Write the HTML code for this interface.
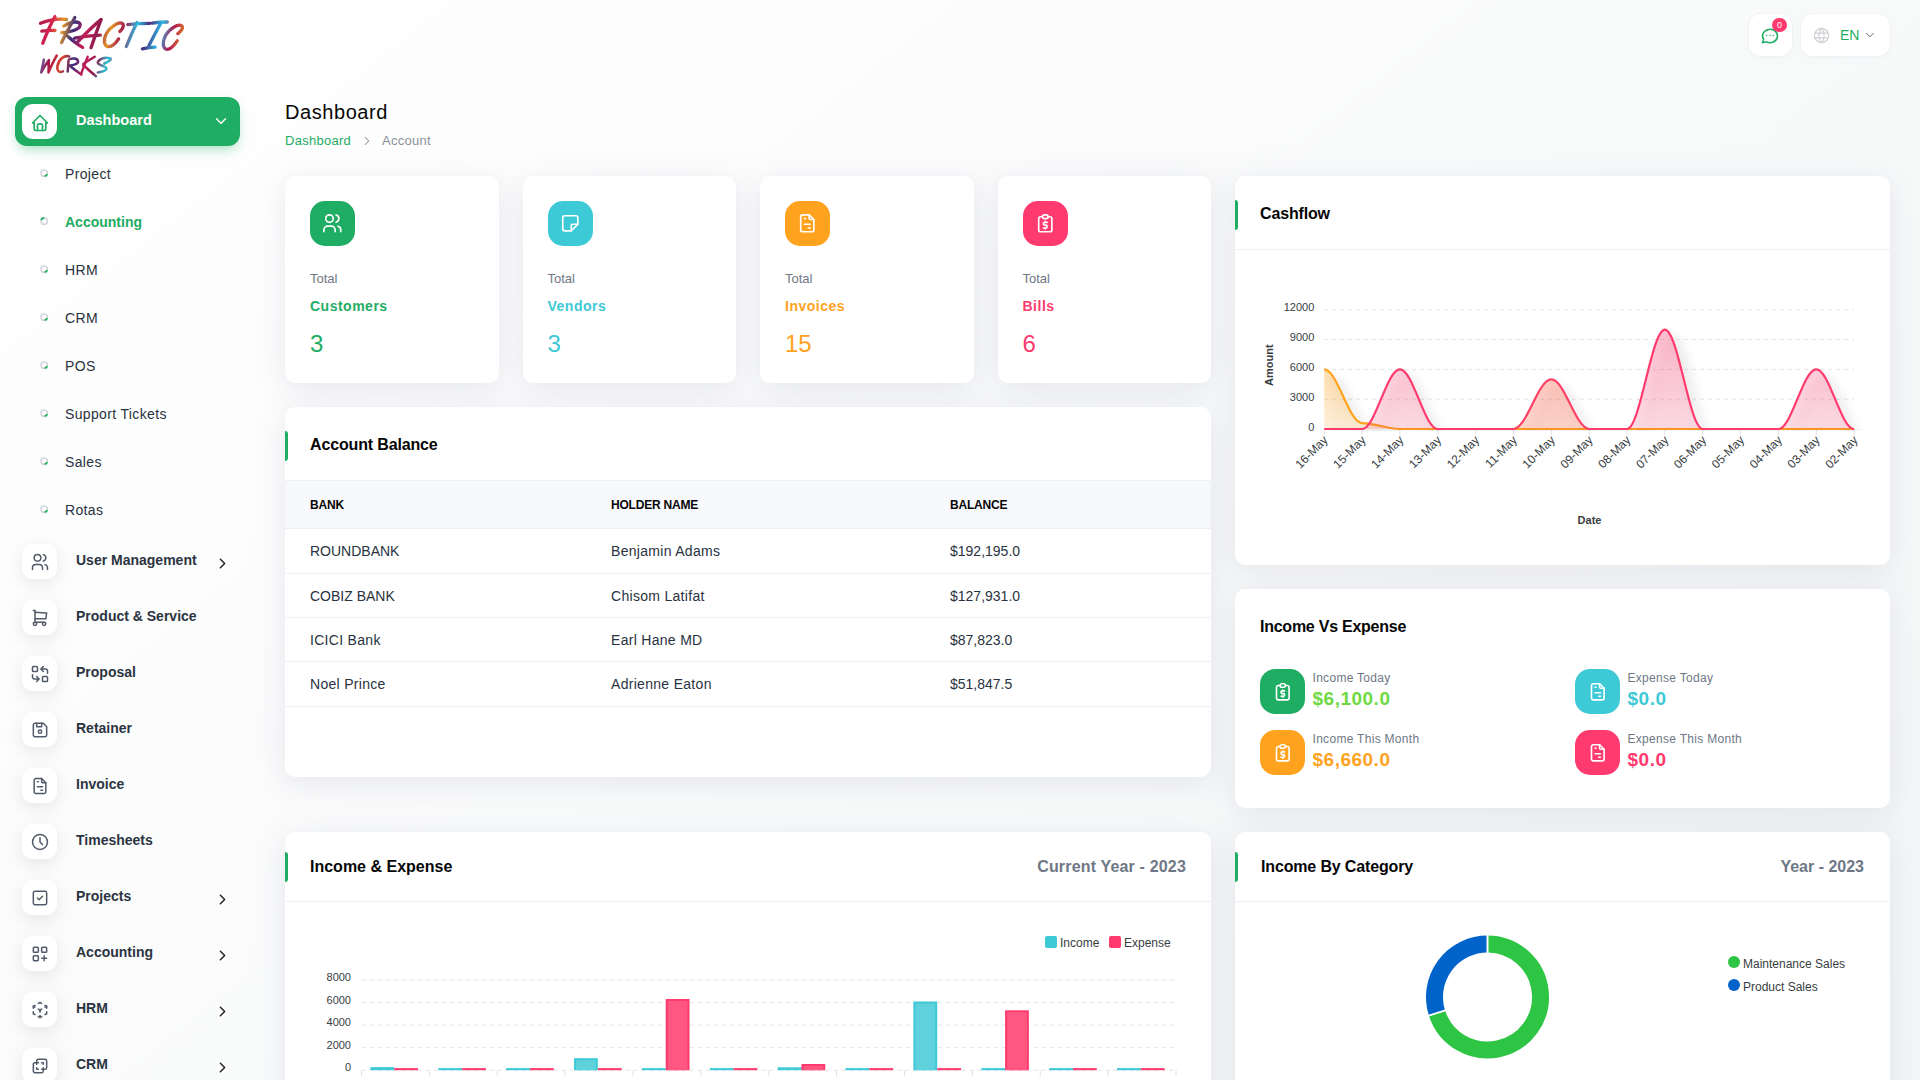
<!DOCTYPE html>
<html><head><meta charset="utf-8">
<style>
*{box-sizing:border-box;margin:0;padding:0}
html,body{width:1920px;height:1080px;overflow:hidden}
body{font-family:"Liberation Sans",sans-serif;color:#293240;background:linear-gradient(141.55deg,rgba(244,246,247,0) 3.46%,#f3f5f6 99.86%),#fff;position:relative}
.a{position:absolute;white-space:nowrap}
.t{position:absolute;white-space:nowrap}
.card{position:absolute;background:#fff;border-radius:10px;box-shadow:0 6px 30px rgba(182,186,203,0.3)}
svg.ti{position:absolute;fill:none;stroke-linecap:round;stroke-linejoin:round}
.mi{position:absolute;left:22px;width:35px;height:35px;border-radius:10px;background:#fff;box-shadow:0 5px 16px rgba(160,165,170,0.22)}
</style></head><body>
<svg class="a" style="left:0;top:0" width="200" height="90" viewBox="0 0 200 90">
<defs><linearGradient id="lg" gradientUnits="userSpaceOnUse" x1="38" y1="15" x2="190" y2="55">
<stop offset="0" stop-color="#a3154c"/><stop offset="0.1" stop-color="#d4244f"/><stop offset="0.17" stop-color="#e89a2a"/><stop offset="0.24" stop-color="#3a2b78"/><stop offset="0.32" stop-color="#c41d55"/>
<stop offset="0.4" stop-color="#8e1a4f"/><stop offset="0.47" stop-color="#e3962c"/><stop offset="0.55" stop-color="#a0174d"/><stop offset="0.63" stop-color="#2dbfe2"/><stop offset="0.7" stop-color="#4a2a80"/>
<stop offset="0.78" stop-color="#2ab8e6"/><stop offset="0.86" stop-color="#b3174f"/><stop offset="0.93" stop-color="#e0852a"/><stop offset="1" stop-color="#8c1a4a"/></linearGradient>
<linearGradient id="lg2" gradientUnits="userSpaceOnUse" x1="38" y1="55" x2="115" y2="78">
<stop offset="0" stop-color="#3a8fd0"/><stop offset="0.15" stop-color="#a3154c"/><stop offset="0.3" stop-color="#d9432f"/><stop offset="0.45" stop-color="#3d2d7e"/><stop offset="0.6" stop-color="#c41d55"/><stop offset="0.72" stop-color="#8e1a4f"/><stop offset="0.85" stop-color="#2dc3d6"/><stop offset="1" stop-color="#b3174f"/></linearGradient></defs>
<g fill="none" stroke="url(#lg)" stroke-width="3.3" stroke-linecap="round" stroke-linejoin="round">
<path d="M40.5 23.3 C48 20.5 58 18.5 66.5 19.5"/>
<path d="M55 16.6 C50 25 46 35 42.8 43.2"/>
<path d="M41.8 31.2 C46 30.6 51 30.2 55 30.5"/>
<path d="M74.8 17.5 C70 26 65 35 61.5 42.6"/>
<path d="M63.8 26 C70 21.5 79 20.5 80.2 24.5 C81 29 70 32.5 61.8 32.6"/>
<path d="M65.2 34.2 C71 39 76 44 82.6 47.4"/>
<path d="M77.5 42.2 C85 34 93 26 101 19.6"/>
<path d="M101 19.6 C97.5 29 94 39 91 47.8"/>
<path d="M74.6 38.2 C83 36.5 92 35.4 100.5 35.1"/>
<path d="M119.7 31.5 C122 29.5 124.5 26 122.5 23.6 C119 21 110 27 106.5 33.5 C103 40 104 46.5 108.6 46.6 C112.5 46.7 116.5 42 118.6 38.8"/>
<path d="M127.8 24.6 C135 23.8 142.5 23.3 149.6 23.3"/>
<path d="M137 22.4 C133 30.5 129.5 38.5 126.4 46.5"/>
<path d="M152.2 23.2 C157 22.5 162.5 22 167.3 22"/>
<path d="M160.5 23.7 C156.5 31 152.5 38.5 149 45.6"/>
<path d="M142.4 48.8 C146.5 48 151 47.4 155.2 47.2"/>
<path d="M177.8 33.8 C180.5 31.5 184 28 181.8 25.8 C178 23.5 169 29 165.5 35.6 C162 42.5 162.8 49 166.8 49.3 C170.5 49.5 175 44.2 177.3 40.8"/>
</g>
<g fill="none" stroke="url(#lg2)" stroke-width="2.5" stroke-linecap="round" stroke-linejoin="round">
<path d="M43.9 59.6 C43 64 42 68.5 41.2 72.4 C43.5 68 46 64 48.9 60 C48.8 64 48.6 68.5 48.5 72.4 C51 66.5 53.8 60.5 56.8 55.5"/>
<path d="M69.2 56.4 C64 55 58.5 59.5 57.4 66.5 C56.8 71.5 60 73 63 71.2"/>
<path d="M68.5 60.4 C68.3 64 68 68 67.7 71.6"/>
<path d="M69.3 59.2 C73 57.8 77.5 58 78.1 61.5 C78.3 64 73 65.3 69 65.4"/>
<path d="M69.8 65.8 C73.5 69 77.5 72 81.4 74.5"/>
<path d="M87.7 56.8 C85.5 62.5 83 68.5 81 74.2"/>
<path d="M94.7 56.8 C91 59 87 61.5 83.5 63.8"/>
<path d="M83.2 65 C87.5 69 91.5 72.5 96 76.2"/>
<path d="M110.6 58.4 C107 57.5 102 57.5 98.5 61 C95.5 64.5 103 65.5 106 67.5 C107.5 69.5 104.5 71.8 97.8 72.4"/>
<path d="M104.3 63.7 C106.5 62.5 109 61 110.6 59.7"/>
</g></svg>

<div class="a" style="left:15px;top:97px;width:225px;height:49px;border-radius:12px;background:#1fac63;box-shadow:0 6px 12px -2px rgba(31,172,99,0.35)"></div>
<div class="a" style="left:22px;top:104px;width:35px;height:35px;border-radius:11px;background:#fff"></div>
<svg class="ti" style="left:29.60px;top:112.50px" width="20" height="20" viewBox="0 0 24 24" stroke="#1fac63" stroke-width="2"><path d="M5 12l-2 0l9 -9l9 9l-2 0"/><path d="M5 12v7a2 2 0 0 0 2 2h10a2 2 0 0 0 2 -2v-7"/><path d="M9 21v-6a2 2 0 0 1 2 -2h2a2 2 0 0 1 2 2v6"/></svg>
<div class="t" style="left:76px;top:112.73px;font-size:14.5px;line-height:14.5px;font-weight:700;color:#fff;">Dashboard</div>
<svg class="ti" style="left:211.50px;top:111.90px" width="18" height="18" viewBox="0 0 24 24" stroke="#fff" stroke-width="1.9"><path d="M6 9l6 6l6 -6"/></svg>
<svg class="a" style="left:40px;top:169px" width="8.5" height="8.5" viewBox="0 0 8.5 8.5"><circle cx="4.2" cy="4.2" r="3.2" stroke="#d2d7de" stroke-width="1.6" fill="none"/><path d="M7.2 5.2 A3.2 3.2 0 0 1 4.6 7.2" stroke="#1fac63" stroke-width="1.8" fill="none"/></svg>
<div class="t" style="left:65px;top:166.90px;font-size:14px;line-height:14px;font-weight:400;color:#293240;letter-spacing:0.35px">Project</div>
<svg class="a" style="left:40px;top:217px" width="8.5" height="8.5" viewBox="0 0 8.5 8.5"><circle cx="4.2" cy="4.2" r="3.2" stroke="#d2d7de" stroke-width="1.6" fill="none"/><path d="M1.2 3.2 A3.2 3.2 0 0 1 4.3 0.9" stroke="#1fac63" stroke-width="1.8" fill="none"/></svg>
<div class="t" style="left:65px;top:214.90px;font-size:14px;line-height:14px;font-weight:700;color:#1fac63;">Accounting</div>
<svg class="a" style="left:40px;top:265px" width="8.5" height="8.5" viewBox="0 0 8.5 8.5"><circle cx="4.2" cy="4.2" r="3.2" stroke="#d2d7de" stroke-width="1.6" fill="none"/><path d="M7.2 5.2 A3.2 3.2 0 0 1 4.6 7.2" stroke="#1fac63" stroke-width="1.8" fill="none"/></svg>
<div class="t" style="left:65px;top:262.90px;font-size:14px;line-height:14px;font-weight:400;color:#293240;letter-spacing:0.35px">HRM</div>
<svg class="a" style="left:40px;top:313px" width="8.5" height="8.5" viewBox="0 0 8.5 8.5"><circle cx="4.2" cy="4.2" r="3.2" stroke="#d2d7de" stroke-width="1.6" fill="none"/><path d="M7.2 5.2 A3.2 3.2 0 0 1 4.6 7.2" stroke="#1fac63" stroke-width="1.8" fill="none"/></svg>
<div class="t" style="left:65px;top:310.90px;font-size:14px;line-height:14px;font-weight:400;color:#293240;letter-spacing:0.35px">CRM</div>
<svg class="a" style="left:40px;top:361px" width="8.5" height="8.5" viewBox="0 0 8.5 8.5"><circle cx="4.2" cy="4.2" r="3.2" stroke="#d2d7de" stroke-width="1.6" fill="none"/><path d="M7.2 5.2 A3.2 3.2 0 0 1 4.6 7.2" stroke="#1fac63" stroke-width="1.8" fill="none"/></svg>
<div class="t" style="left:65px;top:358.90px;font-size:14px;line-height:14px;font-weight:400;color:#293240;letter-spacing:0.35px">POS</div>
<svg class="a" style="left:40px;top:409px" width="8.5" height="8.5" viewBox="0 0 8.5 8.5"><circle cx="4.2" cy="4.2" r="3.2" stroke="#d2d7de" stroke-width="1.6" fill="none"/><path d="M7.2 5.2 A3.2 3.2 0 0 1 4.6 7.2" stroke="#1fac63" stroke-width="1.8" fill="none"/></svg>
<div class="t" style="left:65px;top:406.90px;font-size:14px;line-height:14px;font-weight:400;color:#293240;letter-spacing:0.35px">Support Tickets</div>
<svg class="a" style="left:40px;top:457px" width="8.5" height="8.5" viewBox="0 0 8.5 8.5"><circle cx="4.2" cy="4.2" r="3.2" stroke="#d2d7de" stroke-width="1.6" fill="none"/><path d="M7.2 5.2 A3.2 3.2 0 0 1 4.6 7.2" stroke="#1fac63" stroke-width="1.8" fill="none"/></svg>
<div class="t" style="left:65px;top:454.90px;font-size:14px;line-height:14px;font-weight:400;color:#293240;letter-spacing:0.35px">Sales</div>
<svg class="a" style="left:40px;top:505px" width="8.5" height="8.5" viewBox="0 0 8.5 8.5"><circle cx="4.2" cy="4.2" r="3.2" stroke="#d2d7de" stroke-width="1.6" fill="none"/><path d="M7.2 5.2 A3.2 3.2 0 0 1 4.6 7.2" stroke="#1fac63" stroke-width="1.8" fill="none"/></svg>
<div class="t" style="left:65px;top:502.90px;font-size:14px;line-height:14px;font-weight:400;color:#293240;letter-spacing:0.35px">Rotas</div>
<div class="mi" style="top:544px"></div>
<svg class="ti" style="left:29.50px;top:551.50px" width="20" height="20" viewBox="0 0 24 24" stroke="#525b69" stroke-width="1.8"><path d="M9 7m-4 0a4 4 0 1 0 8 0a4 4 0 1 0 -8 0"/><path d="M3 21v-2a4 4 0 0 1 4 -4h4a4 4 0 0 1 4 4v2"/><path d="M16 3.13a4 4 0 0 1 0 7.75"/><path d="M21 21v-2a4 4 0 0 0 -3 -3.85"/></svg>
<div class="t" style="left:76px;top:553.15px;font-size:14px;line-height:14px;font-weight:700;color:#2c3441;">User Management</div>
<svg class="ti" style="left:213.70px;top:554.80px" width="17" height="17" viewBox="0 0 24 24" stroke="#222" stroke-width="2.1"><path d="M9 6l6 6l-6 6"/></svg>
<div class="mi" style="top:600px"></div>
<svg class="ti" style="left:29.50px;top:607.50px" width="20" height="20" viewBox="0 0 24 24" stroke="#525b69" stroke-width="1.8"><path d="M6 19m-2 0a2 2 0 1 0 4 0a2 2 0 1 0 -4 0"/><path d="M17 19m-2 0a2 2 0 1 0 4 0a2 2 0 1 0 -4 0"/><path d="M17 17h-11v-14h-2"/><path d="M6 5l14 1l-1 7h-13"/></svg>
<div class="t" style="left:76px;top:609.15px;font-size:14px;line-height:14px;font-weight:700;color:#2c3441;">Product &amp; Service</div>
<div class="mi" style="top:656px"></div>
<svg class="ti" style="left:29.50px;top:663.50px" width="20" height="20" viewBox="0 0 24 24" stroke="#525b69" stroke-width="1.8"><path d="M3 3m0 1a1 1 0 0 1 1 -1h4a1 1 0 0 1 1 1v4a1 1 0 0 1 -1 1h-4a1 1 0 0 1 -1 -1z"/><path d="M15 15m0 1a1 1 0 0 1 1 -1h4a1 1 0 0 1 1 1v4a1 1 0 0 1 -1 1h-4a1 1 0 0 1 -1 -1z"/><path d="M21 11v-3a2 2 0 0 0 -2 -2h-6l3 3m0 -6l-3 3"/><path d="M3 13v3a2 2 0 0 0 2 2h6l-3 -3m0 6l3 -3"/></svg>
<div class="t" style="left:76px;top:665.15px;font-size:14px;line-height:14px;font-weight:700;color:#2c3441;">Proposal</div>
<div class="mi" style="top:712px"></div>
<svg class="ti" style="left:29.50px;top:719.50px" width="20" height="20" viewBox="0 0 24 24" stroke="#525b69" stroke-width="1.8"><path d="M6 4h10l4 4v10a2 2 0 0 1 -2 2h-12a2 2 0 0 1 -2 -2v-12a2 2 0 0 1 2 -2"/><path d="M12 14m-2 0a2 2 0 1 0 4 0a2 2 0 1 0 -4 0"/><path d="M14 4l0 4l-6 0l0 -4"/></svg>
<div class="t" style="left:76px;top:721.15px;font-size:14px;line-height:14px;font-weight:700;color:#2c3441;">Retainer</div>
<div class="mi" style="top:768px"></div>
<svg class="ti" style="left:29.50px;top:775.50px" width="20" height="20" viewBox="0 0 24 24" stroke="#525b69" stroke-width="1.8"><path d="M14 3v4a1 1 0 0 0 1 1h4"/><path d="M17 21h-10a2 2 0 0 1 -2 -2v-14a2 2 0 0 1 2 -2h7l5 5v11a2 2 0 0 1 -2 2z"/><path d="M9 7l1 0"/><path d="M9 13l6 0"/><path d="M13 17l2 0"/></svg>
<div class="t" style="left:76px;top:777.15px;font-size:14px;line-height:14px;font-weight:700;color:#2c3441;">Invoice</div>
<div class="mi" style="top:824px"></div>
<svg class="ti" style="left:29.50px;top:831.50px" width="20" height="20" viewBox="0 0 24 24" stroke="#525b69" stroke-width="1.8"><path d="M3 12a9 9 0 1 0 18 0a9 9 0 0 0 -18 0"/><path d="M12 7v5l3 3"/></svg>
<div class="t" style="left:76px;top:833.15px;font-size:14px;line-height:14px;font-weight:700;color:#2c3441;">Timesheets</div>
<div class="mi" style="top:880px"></div>
<svg class="ti" style="left:29.50px;top:887.50px" width="20" height="20" viewBox="0 0 24 24" stroke="#525b69" stroke-width="1.8"><path d="M4 4m0 2a2 2 0 0 1 2 -2h12a2 2 0 0 1 2 2v12a2 2 0 0 1 -2 2h-12a2 2 0 0 1 -2 -2z"/><path d="M9 12l2 2l4 -4"/></svg>
<div class="t" style="left:76px;top:889.15px;font-size:14px;line-height:14px;font-weight:700;color:#2c3441;">Projects</div>
<svg class="ti" style="left:213.70px;top:890.80px" width="17" height="17" viewBox="0 0 24 24" stroke="#222" stroke-width="2.1"><path d="M9 6l6 6l-6 6"/></svg>
<div class="mi" style="top:936px"></div>
<svg class="ti" style="left:29.50px;top:943.50px" width="20" height="20" viewBox="0 0 24 24" stroke="#525b69" stroke-width="1.8"><path d="M4 4m0 1a1 1 0 0 1 1 -1h4a1 1 0 0 1 1 1v4a1 1 0 0 1 -1 1h-4a1 1 0 0 1 -1 -1z"/><path d="M14 4m0 1a1 1 0 0 1 1 -1h4a1 1 0 0 1 1 1v4a1 1 0 0 1 -1 1h-4a1 1 0 0 1 -1 -1z"/><path d="M4 14m0 1a1 1 0 0 1 1 -1h4a1 1 0 0 1 1 1v4a1 1 0 0 1 -1 1h-4a1 1 0 0 1 -1 -1z"/><path d="M14 17h6m-3 -3v6"/></svg>
<div class="t" style="left:76px;top:945.15px;font-size:14px;line-height:14px;font-weight:700;color:#2c3441;">Accounting</div>
<svg class="ti" style="left:213.70px;top:946.80px" width="17" height="17" viewBox="0 0 24 24" stroke="#222" stroke-width="2.1"><path d="M9 6l6 6l-6 6"/></svg>
<div class="mi" style="top:992px"></div>
<svg class="ti" style="left:29.50px;top:999.50px" width="20" height="20" viewBox="0 0 24 24" stroke="#525b69" stroke-width="1.8"><path d="M6 17.6l-2 -1.1v-2.5"/><path d="M4 10v-2.5l2 -1.1"/><path d="M10 4.1l2 -1.1l2 1.1"/><path d="M18 6.4l2 1.1v2.5"/><path d="M20 14v2.5l-2 1.12"/><path d="M14 19.9l-2 1.1l-2 -1.1"/><path d="M12 12l2 -1.1"/><path d="M18 8.6l2 -1.1"/><path d="M12 12l0 2.5"/><path d="M12 18.5l0 2.5"/><path d="M12 12l-2 -1.12"/><path d="M6 8.6l-2 -1.1"/></svg>
<div class="t" style="left:76px;top:1001.15px;font-size:14px;line-height:14px;font-weight:700;color:#2c3441;">HRM</div>
<svg class="ti" style="left:213.70px;top:1002.80px" width="17" height="17" viewBox="0 0 24 24" stroke="#222" stroke-width="2.1"><path d="M9 6l6 6l-6 6"/></svg>
<div class="mi" style="top:1048px"></div>
<svg class="ti" style="left:29.50px;top:1055.50px" width="20" height="20" viewBox="0 0 24 24" stroke="#525b69" stroke-width="1.8"><path d="M16 16v2a2 2 0 0 1 -2 2h-8a2 2 0 0 1 -2 -2v-8a2 2 0 0 1 2 -2h2v-2a2 2 0 0 1 2 -2h8a2 2 0 0 1 2 2v8a2 2 0 0 1 -2 2h-2"/><path d="M10 8l-2 0l0 2"/><path d="M8 14l0 2l2 0"/><path d="M14 8l2 0l0 2"/><path d="M16 14l0 2l-2 0"/></svg>
<div class="t" style="left:76px;top:1057.15px;font-size:14px;line-height:14px;font-weight:700;color:#2c3441;">CRM</div>
<svg class="ti" style="left:213.70px;top:1058.80px" width="17" height="17" viewBox="0 0 24 24" stroke="#222" stroke-width="2.1"><path d="M9 6l6 6l-6 6"/></svg>
<div class="a" style="left:1749px;top:14px;width:43px;height:42px;border-radius:12px;background:#fff;box-shadow:0 0 0 1px rgba(236,238,241,0.6),0 2px 6px rgba(182,186,203,0.10)"></div>
<svg class="ti" style="left:1760px;top:26px" width="20" height="20" viewBox="0 0 24 24" stroke="#1fac63" stroke-width="1.8"><path d="M3 20l1.3 -3.9a9 8 0 1 1 3.4 2.9l-4.7 1"/><path d="M12 11.5l0 .01"/><path d="M8 11.5l0 .01"/><path d="M16 11.5l0 .01"/></svg>
<div class="a" style="left:1772px;top:18px;width:15px;height:14px;border-radius:7px;background:#ff3a6e;color:#fff;font-size:9px;line-height:14px;text-align:center">0</div>
<div class="a" style="left:1801px;top:14px;width:89px;height:42px;border-radius:12px;background:#fff;box-shadow:0 0 0 1px rgba(236,238,241,0.6),0 2px 6px rgba(182,186,203,0.10)"></div>
<svg class="ti" style="left:1812px;top:26px" width="19" height="19" viewBox="0 0 24 24" stroke="#cdd0d4" stroke-width="1.5"><path d="M3 12a9 9 0 1 0 18 0a9 9 0 0 0 -18 0"/><path d="M3.6 9h16.8"/><path d="M3.6 15h16.8"/><path d="M11.5 3a17 17 0 0 0 0 18"/><path d="M12.5 3a17 17 0 0 1 0 18"/></svg>
<div class="t" style="left:1840px;top:28px;font-size:14px;line-height:14px;color:#1fac63">EN</div>
<svg class="ti" style="left:1862.50px;top:27.80px" width="14" height="14" viewBox="0 0 24 24" stroke="#5a6069" stroke-width="1.6"><path d="M6 9l6 6l6 -6"/></svg>
<div class="t" style="left:285px;top:102.07px;font-size:20px;line-height:20px;font-weight:400;color:#060606;letter-spacing:0.57px">Dashboard</div>
<div class="t" style="left:285px;top:133.70px;font-size:13px;line-height:13px;font-weight:400;color:#1fac63;letter-spacing:0.27px">Dashboard</div>
<svg class="ti" style="left:359.50px;top:133.50px" width="14" height="14" viewBox="0 0 24 24" stroke="#8a9099" stroke-width="1.8"><path d="M9 6l6 6l-6 6"/></svg>
<div class="t" style="left:382px;top:133.70px;font-size:13px;line-height:13px;font-weight:400;color:#8a9099;letter-spacing:0.29px">Account</div>
<div class="card" style="left:285px;top:176px;width:213.5px;height:207px"></div>
<div class="a" style="left:310px;top:201px;width:45px;height:45px;border-radius:15px;background:#1fac63"></div>
<svg class="ti" style="left:321.20px;top:212.20px" width="22.6" height="22.6" viewBox="0 0 24 24" stroke="#fff" stroke-width="1.75"><path d="M9 7m-4 0a4 4 0 1 0 8 0a4 4 0 1 0 -8 0"/><path d="M3 21v-2a4 4 0 0 1 4 -4h4a4 4 0 0 1 4 4v2"/><path d="M16 3.13a4 4 0 0 1 0 7.75"/><path d="M21 21v-2a4 4 0 0 0 -3 -3.85"/></svg>
<div class="t" style="left:310px;top:272.00px;font-size:13px;line-height:13px;font-weight:400;color:#6e7785;">Total</div>
<div class="t" style="left:310px;top:298.95px;font-size:14px;line-height:14px;font-weight:700;color:#1fac63;letter-spacing:0.5px">Customers</div>
<div class="t" style="left:310px;top:332.38px;font-size:24px;line-height:24px;font-weight:400;color:#1fac63;">3</div>
<div class="card" style="left:522.5px;top:176px;width:213.5px;height:207px"></div>
<div class="a" style="left:547.5px;top:201px;width:45px;height:45px;border-radius:15px;background:#3ec9d6"></div>
<svg class="ti" style="left:558.70px;top:212.20px" width="22.6" height="22.6" viewBox="0 0 24 24" stroke="#fff" stroke-width="1.75"><path d="M13 20l7 -7"/><path d="M13 20v-6a1 1 0 0 1 1 -1h6v-7a2 2 0 0 0 -2 -2h-12a2 2 0 0 0 -2 2v12a2 2 0 0 0 2 2h7"/></svg>
<div class="t" style="left:547.5px;top:272.00px;font-size:13px;line-height:13px;font-weight:400;color:#6e7785;">Total</div>
<div class="t" style="left:547.5px;top:298.95px;font-size:14px;line-height:14px;font-weight:700;color:#3ec9d6;letter-spacing:0.5px">Vendors</div>
<div class="t" style="left:547.5px;top:332.38px;font-size:24px;line-height:24px;font-weight:400;color:#3ec9d6;">3</div>
<div class="card" style="left:760px;top:176px;width:213.5px;height:207px"></div>
<div class="a" style="left:785px;top:201px;width:45px;height:45px;border-radius:15px;background:#ffa21d"></div>
<svg class="ti" style="left:796.20px;top:212.20px" width="22.6" height="22.6" viewBox="0 0 24 24" stroke="#fff" stroke-width="1.75"><path d="M14 3v4a1 1 0 0 0 1 1h4"/><path d="M17 21h-10a2 2 0 0 1 -2 -2v-14a2 2 0 0 1 2 -2h7l5 5v11a2 2 0 0 1 -2 2z"/><path d="M9 7l1 0"/><path d="M9 13l6 0"/><path d="M13 17l2 0"/></svg>
<div class="t" style="left:785px;top:272.00px;font-size:13px;line-height:13px;font-weight:400;color:#6e7785;">Total</div>
<div class="t" style="left:785px;top:298.95px;font-size:14px;line-height:14px;font-weight:700;color:#ffa21d;letter-spacing:0.5px">Invoices</div>
<div class="t" style="left:785px;top:332.38px;font-size:24px;line-height:24px;font-weight:400;color:#ffa21d;">15</div>
<div class="card" style="left:997.5px;top:176px;width:213.5px;height:207px"></div>
<div class="a" style="left:1022.5px;top:201px;width:45px;height:45px;border-radius:15px;background:#ff3a6e"></div>
<svg class="ti" style="left:1033.70px;top:212.20px" width="22.6" height="22.6" viewBox="0 0 24 24" stroke="#fff" stroke-width="1.75"><path d="M9 5h-2a2 2 0 0 0 -2 2v12a2 2 0 0 0 2 2h10a2 2 0 0 0 2 -2v-12a2 2 0 0 0 -2 -2h-2"/><path d="M9 3m0 2a2 2 0 0 1 2 -2h2a2 2 0 0 1 2 2v0a2 2 0 0 1 -2 2h-2a2 2 0 0 1 -2 -2z"/><path d="M14 11h-2.5a1.5 1.5 0 0 0 0 3h1a1.5 1.5 0 0 1 0 3h-2.5"/><path d="M12 17v1m0 -8v1"/></svg>
<div class="t" style="left:1022.5px;top:272.00px;font-size:13px;line-height:13px;font-weight:400;color:#6e7785;">Total</div>
<div class="t" style="left:1022.5px;top:298.95px;font-size:14px;line-height:14px;font-weight:700;color:#ff3a6e;letter-spacing:0.5px">Bills</div>
<div class="t" style="left:1022.5px;top:332.38px;font-size:24px;line-height:24px;font-weight:400;color:#ff3a6e;">6</div>
<div class="card" style="left:285px;top:407px;width:926px;height:370px;overflow:hidden"><div style="position:absolute;left:0;top:24px;width:3px;height:30px;background:#1fac63;border-radius:0 3px 3px 0"></div><div style="position:absolute;left:0;top:73px;width:100%;height:1px;background:#eef0f3"></div></div>
<div class="a" style="left:285px;top:481px;width:926px;height:47px;background:#f8f9fc"></div>
<div class="t" style="left:310px;top:437.26px;font-size:16px;line-height:16px;font-weight:700;color:#060606;letter-spacing:-0.15px">Account Balance</div>
<div class="t" style="left:310px;top:498.74px;font-size:12px;line-height:12px;font-weight:700;color:#060606;letter-spacing:-0.2px">BANK</div>
<div class="t" style="left:611px;top:498.74px;font-size:12px;line-height:12px;font-weight:700;color:#060606;letter-spacing:-0.2px">HOLDER NAME</div>
<div class="t" style="left:950px;top:498.74px;font-size:12px;line-height:12px;font-weight:700;color:#060606;letter-spacing:-0.2px">BALANCE</div>
<div class="t" style="left:310px;top:544.15px;font-size:14px;line-height:14px;font-weight:400;color:#293240;letter-spacing:0px">ROUNDBANK</div>
<div class="t" style="left:611px;top:544.15px;font-size:14px;line-height:14px;font-weight:400;color:#293240;letter-spacing:0.3px">Benjamin Adams</div>
<div class="t" style="left:950px;top:544.15px;font-size:14px;line-height:14px;font-weight:400;color:#293240;letter-spacing:0px">$192,195.0</div>
<div class="t" style="left:310px;top:588.75px;font-size:14px;line-height:14px;font-weight:400;color:#293240;letter-spacing:0px">COBIZ BANK</div>
<div class="t" style="left:611px;top:588.75px;font-size:14px;line-height:14px;font-weight:400;color:#293240;letter-spacing:0.3px">Chisom Latifat</div>
<div class="t" style="left:950px;top:588.75px;font-size:14px;line-height:14px;font-weight:400;color:#293240;letter-spacing:0px">$127,931.0</div>
<div class="t" style="left:310px;top:633.05px;font-size:14px;line-height:14px;font-weight:400;color:#293240;letter-spacing:0.3px">ICICI Bank</div>
<div class="t" style="left:611px;top:633.05px;font-size:14px;line-height:14px;font-weight:400;color:#293240;letter-spacing:0.3px">Earl Hane MD</div>
<div class="t" style="left:950px;top:633.05px;font-size:14px;line-height:14px;font-weight:400;color:#293240;letter-spacing:0px">$87,823.0</div>
<div class="t" style="left:310px;top:677.45px;font-size:14px;line-height:14px;font-weight:400;color:#293240;letter-spacing:0.3px">Noel Prince</div>
<div class="t" style="left:611px;top:677.45px;font-size:14px;line-height:14px;font-weight:400;color:#293240;letter-spacing:0.3px">Adrienne Eaton</div>
<div class="t" style="left:950px;top:677.45px;font-size:14px;line-height:14px;font-weight:400;color:#293240;letter-spacing:0px">$51,847.5</div>
<div class="a" style="left:285px;top:528.0px;width:926px;height:1px;background:#eef0f3"></div>
<div class="a" style="left:285px;top:572.8px;width:926px;height:1px;background:#eef0f3"></div>
<div class="a" style="left:285px;top:616.7px;width:926px;height:1px;background:#eef0f3"></div>
<div class="a" style="left:285px;top:660.8px;width:926px;height:1px;background:#eef0f3"></div>
<div class="a" style="left:285px;top:705.5px;width:926px;height:1px;background:#eef0f3"></div>
<div class="card" style="left:1235px;top:176px;width:655px;height:389px;overflow:hidden"><div style="position:absolute;left:0;top:24px;width:3px;height:30px;background:#1fac63;border-radius:0 3px 3px 0"></div><div style="position:absolute;left:0;top:73px;width:100%;height:1px;background:#eef0f3"></div></div>
<div class="t" style="left:1260px;top:206.46px;font-size:16px;line-height:16px;font-weight:700;color:#060606;letter-spacing:-0.15px">Cashflow</div>
<svg class="a" style="left:0;top:0" width="1920" height="1080" viewBox="0 0 1920 1080"><defs><filter id="ds" x="-20%" y="-50%" width="140%" height="200%"><feGaussianBlur in="SourceAlpha" stdDeviation="6"/><feOffset dx="7" dy="8"/><feComponentTransfer><feFuncA type="linear" slope="0.22"/></feComponentTransfer><feMerge><feMergeNode/><feMergeNode in="SourceGraphic"/></feMerge></filter><clipPath id="cfc"><rect x="1320" y="290" width="545" height="141"/></clipPath><linearGradient id="gp" x1="0" y1="0" x2="0" y2="1"><stop offset="0" stop-color="#ff3a6e" stop-opacity="0.32"/><stop offset="1" stop-color="#ff3a6e" stop-opacity="0.16"/></linearGradient><linearGradient id="go" x1="0" y1="0" x2="0" y2="1"><stop offset="0" stop-color="#ffa21d" stop-opacity="0.35"/><stop offset="1" stop-color="#ffa21d" stop-opacity="0.16"/></linearGradient></defs><line x1="1324.2" y1="309.80" x2="1854.10" y2="309.80" stroke="#e3e3e3" stroke-dasharray="4 4"/><line x1="1324.2" y1="339.60" x2="1854.10" y2="339.60" stroke="#e3e3e3" stroke-dasharray="4 4"/><line x1="1324.2" y1="369.40" x2="1854.10" y2="369.40" stroke="#e3e3e3" stroke-dasharray="4 4"/><line x1="1324.2" y1="399.20" x2="1854.10" y2="399.20" stroke="#e3e3e3" stroke-dasharray="4 4"/><text x="1314.3" y="311.40" text-anchor="end" font-family="Liberation Sans" font-size="11" fill="#373d3f">12000</text><text x="1314.3" y="341.20" text-anchor="end" font-family="Liberation Sans" font-size="11" fill="#373d3f">9000</text><text x="1314.3" y="371.00" text-anchor="end" font-family="Liberation Sans" font-size="11" fill="#373d3f">6000</text><text x="1314.3" y="400.80" text-anchor="end" font-family="Liberation Sans" font-size="11" fill="#373d3f">3000</text><text x="1314.3" y="430.60" text-anchor="end" font-family="Liberation Sans" font-size="11" fill="#373d3f">0</text><line x1="1324.20" y1="429.0" x2="1324.20" y2="435.0" stroke="#e0e0e0"/><line x1="1362.05" y1="429.0" x2="1362.05" y2="435.0" stroke="#e0e0e0"/><line x1="1399.90" y1="429.0" x2="1399.90" y2="435.0" stroke="#e0e0e0"/><line x1="1437.75" y1="429.0" x2="1437.75" y2="435.0" stroke="#e0e0e0"/><line x1="1475.60" y1="429.0" x2="1475.60" y2="435.0" stroke="#e0e0e0"/><line x1="1513.45" y1="429.0" x2="1513.45" y2="435.0" stroke="#e0e0e0"/><line x1="1551.30" y1="429.0" x2="1551.30" y2="435.0" stroke="#e0e0e0"/><line x1="1589.15" y1="429.0" x2="1589.15" y2="435.0" stroke="#e0e0e0"/><line x1="1627.00" y1="429.0" x2="1627.00" y2="435.0" stroke="#e0e0e0"/><line x1="1664.85" y1="429.0" x2="1664.85" y2="435.0" stroke="#e0e0e0"/><line x1="1702.70" y1="429.0" x2="1702.70" y2="435.0" stroke="#e0e0e0"/><line x1="1740.55" y1="429.0" x2="1740.55" y2="435.0" stroke="#e0e0e0"/><line x1="1778.40" y1="429.0" x2="1778.40" y2="435.0" stroke="#e0e0e0"/><line x1="1816.25" y1="429.0" x2="1816.25" y2="435.0" stroke="#e0e0e0"/><line x1="1854.10" y1="429.0" x2="1854.10" y2="435.0" stroke="#e0e0e0"/><g clip-path="url(#cfc)"><g filter="url(#ds)"><path d="M1324.20 369.40 C1337.45 369.40 1348.80 423.04 1362.05 423.04 C1375.30 423.04 1386.65 429.00 1399.90 429.00 C1413.15 429.00 1424.50 429.00 1437.75 429.00 C1451.00 429.00 1462.35 429.00 1475.60 429.00 C1488.85 429.00 1500.20 429.00 1513.45 429.00 C1526.70 429.00 1538.05 429.00 1551.30 429.00 C1564.55 429.00 1575.90 429.00 1589.15 429.00 C1602.40 429.00 1613.75 429.00 1627.00 429.00 C1640.25 429.00 1651.60 429.00 1664.85 429.00 C1678.10 429.00 1689.45 429.00 1702.70 429.00 C1715.95 429.00 1727.30 429.00 1740.55 429.00 C1753.80 429.00 1765.15 429.00 1778.40 429.00 C1791.65 429.00 1803.00 429.00 1816.25 429.00 C1829.50 429.00 1840.85 429.00 1854.10 429.00 L1854.10 429.0 L1324.20 429.0 Z" fill="url(#go)"/><path d="M1324.20 369.40 C1337.45 369.40 1348.80 423.04 1362.05 423.04 C1375.30 423.04 1386.65 429.00 1399.90 429.00 C1413.15 429.00 1424.50 429.00 1437.75 429.00 C1451.00 429.00 1462.35 429.00 1475.60 429.00 C1488.85 429.00 1500.20 429.00 1513.45 429.00 C1526.70 429.00 1538.05 429.00 1551.30 429.00 C1564.55 429.00 1575.90 429.00 1589.15 429.00 C1602.40 429.00 1613.75 429.00 1627.00 429.00 C1640.25 429.00 1651.60 429.00 1664.85 429.00 C1678.10 429.00 1689.45 429.00 1702.70 429.00 C1715.95 429.00 1727.30 429.00 1740.55 429.00 C1753.80 429.00 1765.15 429.00 1778.40 429.00 C1791.65 429.00 1803.00 429.00 1816.25 429.00 C1829.50 429.00 1840.85 429.00 1854.10 429.00" fill="none" stroke="#ffa21d" stroke-width="2.2"/></g></g><g clip-path="url(#cfc)"><g filter="url(#ds)"><path d="M1324.20 429.00 C1337.45 429.00 1348.80 429.00 1362.05 429.00 C1375.30 429.00 1386.65 369.40 1399.90 369.40 C1413.15 369.40 1424.50 429.00 1437.75 429.00 C1451.00 429.00 1462.35 429.00 1475.60 429.00 C1488.85 429.00 1500.20 429.00 1513.45 429.00 C1526.70 429.00 1538.05 379.33 1551.30 379.33 C1564.55 379.33 1575.90 429.00 1589.15 429.00 C1602.40 429.00 1613.75 429.00 1627.00 429.00 C1640.25 429.00 1651.60 329.67 1664.85 329.67 C1678.10 329.67 1689.45 429.00 1702.70 429.00 C1715.95 429.00 1727.30 429.00 1740.55 429.00 C1753.80 429.00 1765.15 429.00 1778.40 429.00 C1791.65 429.00 1803.00 369.40 1816.25 369.40 C1829.50 369.40 1840.85 429.00 1854.10 429.00 L1854.10 429.0 L1324.20 429.0 Z" fill="url(#gp)"/><path d="M1324.20 429.00 C1337.45 429.00 1348.80 429.00 1362.05 429.00 C1375.30 429.00 1386.65 369.40 1399.90 369.40 C1413.15 369.40 1424.50 429.00 1437.75 429.00 C1451.00 429.00 1462.35 429.00 1475.60 429.00 C1488.85 429.00 1500.20 429.00 1513.45 429.00 C1526.70 429.00 1538.05 379.33 1551.30 379.33 C1564.55 379.33 1575.90 429.00 1589.15 429.00 C1602.40 429.00 1613.75 429.00 1627.00 429.00 C1640.25 429.00 1651.60 329.67 1664.85 329.67 C1678.10 329.67 1689.45 429.00 1702.70 429.00 C1715.95 429.00 1727.30 429.00 1740.55 429.00 C1753.80 429.00 1765.15 429.00 1778.40 429.00 C1791.65 429.00 1803.00 369.40 1816.25 369.40 C1829.50 369.40 1840.85 429.00 1854.10 429.00" fill="none" stroke="#ff3a6e" stroke-width="2.2"/></g></g><text x="1325.70" y="442.00" text-anchor="end" transform="rotate(-45 1325.70 438.00)" font-family="Liberation Sans" font-size="12" fill="#373d3f">16-May</text><text x="1363.55" y="442.00" text-anchor="end" transform="rotate(-45 1363.55 438.00)" font-family="Liberation Sans" font-size="12" fill="#373d3f">15-May</text><text x="1401.40" y="442.00" text-anchor="end" transform="rotate(-45 1401.40 438.00)" font-family="Liberation Sans" font-size="12" fill="#373d3f">14-May</text><text x="1439.25" y="442.00" text-anchor="end" transform="rotate(-45 1439.25 438.00)" font-family="Liberation Sans" font-size="12" fill="#373d3f">13-May</text><text x="1477.10" y="442.00" text-anchor="end" transform="rotate(-45 1477.10 438.00)" font-family="Liberation Sans" font-size="12" fill="#373d3f">12-May</text><text x="1514.95" y="442.00" text-anchor="end" transform="rotate(-45 1514.95 438.00)" font-family="Liberation Sans" font-size="12" fill="#373d3f">11-May</text><text x="1552.80" y="442.00" text-anchor="end" transform="rotate(-45 1552.80 438.00)" font-family="Liberation Sans" font-size="12" fill="#373d3f">10-May</text><text x="1590.65" y="442.00" text-anchor="end" transform="rotate(-45 1590.65 438.00)" font-family="Liberation Sans" font-size="12" fill="#373d3f">09-May</text><text x="1628.50" y="442.00" text-anchor="end" transform="rotate(-45 1628.50 438.00)" font-family="Liberation Sans" font-size="12" fill="#373d3f">08-May</text><text x="1666.35" y="442.00" text-anchor="end" transform="rotate(-45 1666.35 438.00)" font-family="Liberation Sans" font-size="12" fill="#373d3f">07-May</text><text x="1704.20" y="442.00" text-anchor="end" transform="rotate(-45 1704.20 438.00)" font-family="Liberation Sans" font-size="12" fill="#373d3f">06-May</text><text x="1742.05" y="442.00" text-anchor="end" transform="rotate(-45 1742.05 438.00)" font-family="Liberation Sans" font-size="12" fill="#373d3f">05-May</text><text x="1779.90" y="442.00" text-anchor="end" transform="rotate(-45 1779.90 438.00)" font-family="Liberation Sans" font-size="12" fill="#373d3f">04-May</text><text x="1817.75" y="442.00" text-anchor="end" transform="rotate(-45 1817.75 438.00)" font-family="Liberation Sans" font-size="12" fill="#373d3f">03-May</text><text x="1855.60" y="442.00" text-anchor="end" transform="rotate(-45 1855.60 438.00)" font-family="Liberation Sans" font-size="12" fill="#373d3f">02-May</text><path d="M1324.20 429.00 C1337.45 429.00 1348.80 429.00 1362.05 429.00 C1375.30 429.00 1386.65 429.00 1399.90 429.00 C1413.15 429.00 1424.50 429.00 1437.75 429.00 C1451.00 429.00 1462.35 429.00 1475.60 429.00 C1488.85 429.00 1500.20 429.00 1513.45 429.00 C1526.70 429.00 1538.05 379.33 1551.30 379.33 C1564.55 379.33 1575.90 429.00 1589.15 429.00 C1602.40 429.00 1613.75 429.00 1627.00 429.00 C1640.25 429.00 1651.60 429.00 1664.85 429.00 C1678.10 429.00 1689.45 429.00 1702.70 429.00 C1715.95 429.00 1727.30 429.00 1740.55 429.00 C1753.80 429.00 1765.15 429.00 1778.40 429.00 C1791.65 429.00 1803.00 429.00 1816.25 429.00 C1829.50 429.00 1840.85 429.00 1854.10 429.00 L1854.10 429.0 L1324.20 429.0 Z" fill="#ffa21d" fill-opacity="0.14" clip-path="url(#cfc)"/><text x="1589.5" y="524.4" text-anchor="middle" font-family="Liberation Sans" font-size="11" font-weight="700" fill="#373d3f">Date</text><text x="0" y="0" text-anchor="middle" transform="translate(1273.4 365.2) rotate(-90)" font-family="Liberation Sans" font-size="11" font-weight="700" fill="#373d3f">Amount</text></svg>
<div class="card" style="left:1235px;top:589px;width:655px;height:219px"></div>
<div class="t" style="left:1260px;top:619.36px;font-size:16px;line-height:16px;font-weight:700;color:#060606;letter-spacing:-0.25px">Income Vs Expense</div>
<div class="a" style="left:1260px;top:669px;width:45px;height:45px;border-radius:15px;background:#1fac63"></div>
<svg class="ti" style="left:1271.70px;top:680.70px" width="21.6" height="21.6" viewBox="0 0 24 24" stroke="#fff" stroke-width="1.8"><path d="M9 5h-2a2 2 0 0 0 -2 2v12a2 2 0 0 0 2 2h10a2 2 0 0 0 2 -2v-12a2 2 0 0 0 -2 -2h-2"/><path d="M9 3m0 2a2 2 0 0 1 2 -2h2a2 2 0 0 1 2 2v0a2 2 0 0 1 -2 2h-2a2 2 0 0 1 -2 -2z"/><path d="M14 11h-2.5a1.5 1.5 0 0 0 0 3h1a1.5 1.5 0 0 1 0 3h-2.5"/><path d="M12 17v1m0 -8v1"/></svg>
<div class="t" style="left:1312.5px;top:671.64px;font-size:12px;line-height:12px;font-weight:400;color:#6e7785;letter-spacing:0.3px">Income Today</div>
<div class="t" style="left:1312.5px;top:689.42px;font-size:19px;line-height:19px;font-weight:700;color:#6fd943;letter-spacing:0.5px">$6,100.0</div>
<div class="a" style="left:1575px;top:669px;width:45px;height:45px;border-radius:15px;background:#3ec9d6"></div>
<svg class="ti" style="left:1586.70px;top:680.70px" width="21.6" height="21.6" viewBox="0 0 24 24" stroke="#fff" stroke-width="1.8"><path d="M14 3v4a1 1 0 0 0 1 1h4"/><path d="M17 21h-10a2 2 0 0 1 -2 -2v-14a2 2 0 0 1 2 -2h7l5 5v11a2 2 0 0 1 -2 2z"/><path d="M9 7l1 0"/><path d="M9 13l6 0"/><path d="M13 17l2 0"/></svg>
<div class="t" style="left:1627.5px;top:671.64px;font-size:12px;line-height:12px;font-weight:400;color:#6e7785;letter-spacing:0.3px">Expense Today</div>
<div class="t" style="left:1627.5px;top:689.42px;font-size:19px;line-height:19px;font-weight:700;color:#3ec9d6;letter-spacing:0.5px">$0.0</div>
<div class="a" style="left:1260px;top:730px;width:45px;height:45px;border-radius:15px;background:#ffa21d"></div>
<svg class="ti" style="left:1271.70px;top:741.70px" width="21.6" height="21.6" viewBox="0 0 24 24" stroke="#fff" stroke-width="1.8"><path d="M9 5h-2a2 2 0 0 0 -2 2v12a2 2 0 0 0 2 2h10a2 2 0 0 0 2 -2v-12a2 2 0 0 0 -2 -2h-2"/><path d="M9 3m0 2a2 2 0 0 1 2 -2h2a2 2 0 0 1 2 2v0a2 2 0 0 1 -2 2h-2a2 2 0 0 1 -2 -2z"/><path d="M14 11h-2.5a1.5 1.5 0 0 0 0 3h1a1.5 1.5 0 0 1 0 3h-2.5"/><path d="M12 17v1m0 -8v1"/></svg>
<div class="t" style="left:1312.5px;top:732.64px;font-size:12px;line-height:12px;font-weight:400;color:#6e7785;letter-spacing:0.3px">Income This Month</div>
<div class="t" style="left:1312.5px;top:750.42px;font-size:19px;line-height:19px;font-weight:700;color:#ffa21d;letter-spacing:0.5px">$6,660.0</div>
<div class="a" style="left:1575px;top:730px;width:45px;height:45px;border-radius:15px;background:#ff3a6e"></div>
<svg class="ti" style="left:1586.70px;top:741.70px" width="21.6" height="21.6" viewBox="0 0 24 24" stroke="#fff" stroke-width="1.8"><path d="M14 3v4a1 1 0 0 0 1 1h4"/><path d="M17 21h-10a2 2 0 0 1 -2 -2v-14a2 2 0 0 1 2 -2h7l5 5v11a2 2 0 0 1 -2 2z"/><path d="M9 7l1 0"/><path d="M9 13l6 0"/><path d="M13 17l2 0"/></svg>
<div class="t" style="left:1627.5px;top:732.64px;font-size:12px;line-height:12px;font-weight:400;color:#6e7785;letter-spacing:0.3px">Expense This Month</div>
<div class="t" style="left:1627.5px;top:750.42px;font-size:19px;line-height:19px;font-weight:700;color:#ff3a6e;letter-spacing:0.5px">$0.0</div>
<div class="card" style="left:285px;top:832px;width:926px;height:400px;overflow:hidden"><div style="position:absolute;left:0;top:20px;width:3px;height:30px;background:#1fac63;border-radius:0 3px 3px 0"></div><div style="position:absolute;left:0;top:69px;width:100%;height:1px;background:#eef0f3"></div></div>
<div class="t" style="left:310px;top:858.96px;font-size:16px;line-height:16px;font-weight:700;color:#060606;">Income &amp; Expense</div>
<div class="t" style="left:1186px;top:858.96px;font-size:16px;line-height:16px;font-weight:700;color:#6e7785;transform:translateX(-100%);letter-spacing:0.17px">Current Year - 2023</div>
<svg class="a" style="left:0;top:0" width="1920" height="1080" viewBox="0 0 1920 1080"><line x1="361.5" y1="1070.20" x2="1176" y2="1070.20" stroke="#e3e3e3" stroke-dasharray="4 4"/><text x="351" y="1071.40" text-anchor="end" font-family="Liberation Sans" font-size="11" fill="#373d3f">0</text><line x1="361.5" y1="1047.65" x2="1176" y2="1047.65" stroke="#e3e3e3" stroke-dasharray="4 4"/><text x="351" y="1048.85" text-anchor="end" font-family="Liberation Sans" font-size="11" fill="#373d3f">2000</text><line x1="361.5" y1="1025.10" x2="1176" y2="1025.10" stroke="#e3e3e3" stroke-dasharray="4 4"/><text x="351" y="1026.30" text-anchor="end" font-family="Liberation Sans" font-size="11" fill="#373d3f">4000</text><line x1="361.5" y1="1002.55" x2="1176" y2="1002.55" stroke="#e3e3e3" stroke-dasharray="4 4"/><text x="351" y="1003.75" text-anchor="end" font-family="Liberation Sans" font-size="11" fill="#373d3f">6000</text><line x1="361.5" y1="980.00" x2="1176" y2="980.00" stroke="#e3e3e3" stroke-dasharray="4 4"/><text x="351" y="981.20" text-anchor="end" font-family="Liberation Sans" font-size="11" fill="#373d3f">8000</text><line x1="361.50" y1="1070.2" x2="361.50" y2="1076.2" stroke="#e0e0e0"/><line x1="429.38" y1="1070.2" x2="429.38" y2="1076.2" stroke="#e0e0e0"/><line x1="497.25" y1="1070.2" x2="497.25" y2="1076.2" stroke="#e0e0e0"/><line x1="565.12" y1="1070.2" x2="565.12" y2="1076.2" stroke="#e0e0e0"/><line x1="633.00" y1="1070.2" x2="633.00" y2="1076.2" stroke="#e0e0e0"/><line x1="700.88" y1="1070.2" x2="700.88" y2="1076.2" stroke="#e0e0e0"/><line x1="768.75" y1="1070.2" x2="768.75" y2="1076.2" stroke="#e0e0e0"/><line x1="836.62" y1="1070.2" x2="836.62" y2="1076.2" stroke="#e0e0e0"/><line x1="904.50" y1="1070.2" x2="904.50" y2="1076.2" stroke="#e0e0e0"/><line x1="972.38" y1="1070.2" x2="972.38" y2="1076.2" stroke="#e0e0e0"/><line x1="1040.25" y1="1070.2" x2="1040.25" y2="1076.2" stroke="#e0e0e0"/><line x1="1108.12" y1="1070.2" x2="1108.12" y2="1076.2" stroke="#e0e0e0"/><line x1="1176.00" y1="1070.2" x2="1176.00" y2="1076.2" stroke="#e0e0e0"/><rect x="370.40" y="1067.10" width="23.80" height="3.10" fill="#3ec9d6"/><rect x="394.20" y="1068.10" width="23.80" height="2.10" fill="#ff3a6e"/><rect x="438.27" y="1068.10" width="23.80" height="2.10" fill="#3ec9d6"/><rect x="462.07" y="1068.10" width="23.80" height="2.10" fill="#ff3a6e"/><rect x="506.15" y="1068.10" width="23.80" height="2.10" fill="#3ec9d6"/><rect x="529.95" y="1068.10" width="23.80" height="2.10" fill="#ff3a6e"/><rect x="574.02" y="1058.20" width="23.80" height="12.00" fill="#3ec9d6"/><rect x="576.02" y="1060.20" width="19.80" height="10.00" fill="#5ed1dc"/><rect x="597.82" y="1068.10" width="23.80" height="2.10" fill="#ff3a6e"/><rect x="641.90" y="1068.10" width="23.80" height="2.10" fill="#3ec9d6"/><rect x="665.70" y="999.00" width="23.80" height="71.20" fill="#ff3a6e"/><rect x="667.70" y="1001.00" width="19.80" height="69.20" fill="#ff5781"/><rect x="709.77" y="1068.10" width="23.80" height="2.10" fill="#3ec9d6"/><rect x="733.57" y="1068.10" width="23.80" height="2.10" fill="#ff3a6e"/><rect x="777.65" y="1067.30" width="23.80" height="2.90" fill="#3ec9d6"/><rect x="801.45" y="1064.00" width="23.80" height="6.20" fill="#ff3a6e"/><rect x="803.45" y="1066.00" width="19.80" height="4.20" fill="#ff5781"/><rect x="845.52" y="1068.10" width="23.80" height="2.10" fill="#3ec9d6"/><rect x="869.32" y="1068.10" width="23.80" height="2.10" fill="#ff3a6e"/><rect x="913.40" y="1001.50" width="23.80" height="68.70" fill="#3ec9d6"/><rect x="915.40" y="1003.50" width="19.80" height="66.70" fill="#5ed1dc"/><rect x="937.20" y="1068.10" width="23.80" height="2.10" fill="#ff3a6e"/><rect x="981.27" y="1068.10" width="23.80" height="2.10" fill="#3ec9d6"/><rect x="1005.07" y="1010.30" width="23.80" height="59.90" fill="#ff3a6e"/><rect x="1007.07" y="1012.30" width="19.80" height="57.90" fill="#ff5781"/><rect x="1049.15" y="1068.10" width="23.80" height="2.10" fill="#3ec9d6"/><rect x="1072.95" y="1068.10" width="23.80" height="2.10" fill="#ff3a6e"/><rect x="1117.03" y="1068.10" width="23.80" height="2.10" fill="#3ec9d6"/><rect x="1140.83" y="1068.10" width="23.80" height="2.10" fill="#ff3a6e"/><rect x="1045" y="936" width="12" height="12" rx="2" fill="#3ec9d6"/><text x="1060" y="947" font-family="Liberation Sans" font-size="12" fill="#373d3f">Income</text><rect x="1109" y="936" width="12" height="12" rx="2" fill="#ff3a6e"/><text x="1124" y="947" font-family="Liberation Sans" font-size="12" fill="#373d3f">Expense</text></svg>
<div class="card" style="left:1235px;top:832px;width:655px;height:400px;overflow:hidden"><div style="position:absolute;left:0;top:20px;width:3px;height:30px;background:#1fac63;border-radius:0 3px 3px 0"></div><div style="position:absolute;left:0;top:69px;width:100%;height:1px;background:#eef0f3"></div></div>
<div class="t" style="left:1261px;top:859.46px;font-size:16px;line-height:16px;font-weight:700;color:#060606;letter-spacing:-0.15px">Income By Category</div>
<div class="t" style="left:1864px;top:859.46px;font-size:16px;line-height:16px;font-weight:700;color:#6e7785;transform:translateX(-100%)">Year - 2023</div>
<svg class="a" style="left:0;top:0" width="1920" height="1080" viewBox="0 0 1920 1080"><path d="M1487.50 944.00 A53 53 0 1 1 1436.98 1013.03" fill="none" stroke="#2ec444" stroke-width="17"/><path d="M1436.98 1013.03 A53 53 0 0 1 1487.50 944.00" fill="none" stroke="#0063c9" stroke-width="17"/><line x1="1487.50" y1="953.50" x2="1487.50" y2="934.50" stroke="#fff" stroke-width="2"/><line x1="1446.04" y1="1010.15" x2="1427.93" y2="1015.90" stroke="#fff" stroke-width="2"/><circle cx="1734" cy="962" r="6" fill="#2ec444"/><text x="1743" y="968" font-family="Liberation Sans" font-size="12" fill="#373d3f">Maintenance Sales</text><circle cx="1734" cy="985" r="6" fill="#0063c9"/><text x="1743" y="991" font-family="Liberation Sans" font-size="12" fill="#373d3f">Product Sales</text></svg>
</body></html>
